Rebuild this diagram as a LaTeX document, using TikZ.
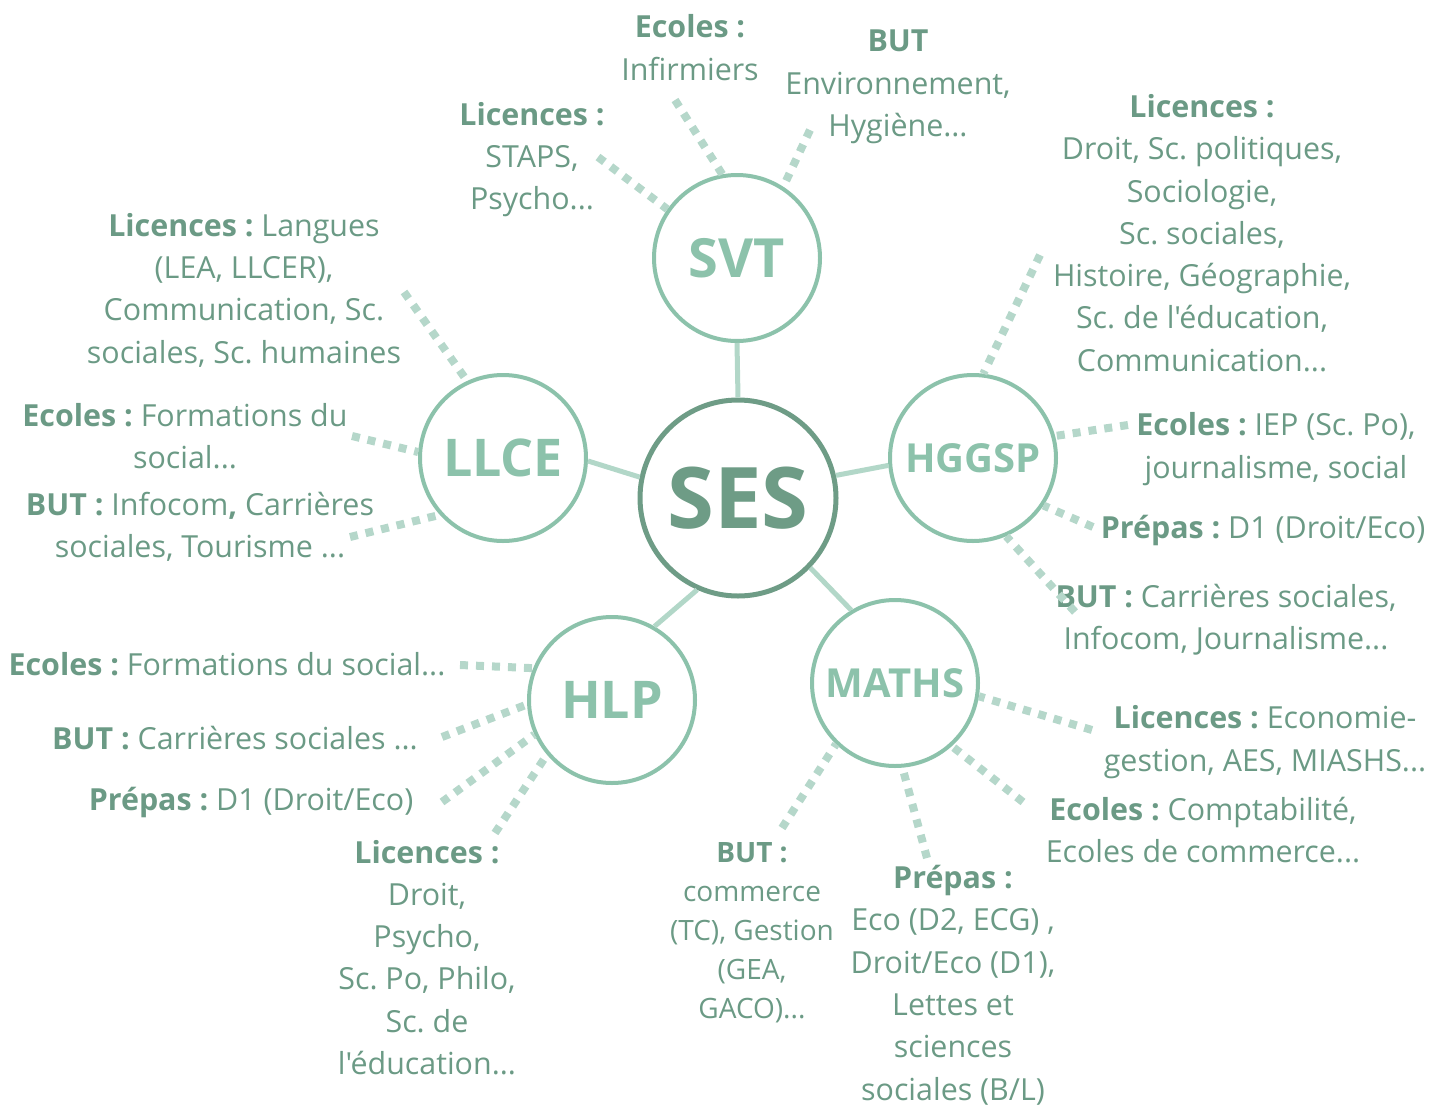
\documentclass[tikz,border=0pt]{standalone}
\usepackage{fontspec}
\setmainfont{Open Sans}[Ligatures=TeXOff]
\frenchspacing
\definecolor{txt}{HTML}{6B9A85}
\definecolor{sesc}{HTML}{6E9C86}
\definecolor{circ}{HTML}{8CC2AB}
\definecolor{linkc}{HTML}{B2D7C8}
\definecolor{dotc}{HTML}{B5D7CA}
\begin{document}
\begin{tikzpicture}[x=1pt,y=-1pt,
 lbl/.style={text=txt,align=center,font=\fontsize{30.4}{42.3}\selectfont,inner sep=0pt},
 lbls/.style={text=txt,align=center,font=\fontsize{28}{39}\selectfont,inner sep=0pt},
 bub/.style={circle,draw=circ,line width=4pt,inner sep=0pt,minimum size=166pt,text=circ},
 linkl/.style={draw=linkc,line width=5pt},
 dotl/.style={draw=dotc,line width=8pt,dash pattern=on 8pt off 8pt}]
\useasboundingbox (0,0) rectangle (1444,1106);
% circles
\node[circle,draw=sesc,line width=5pt,inner sep=0pt,minimum size=196pt,text=sesc,
  font=\fontsize{85}{85}\selectfont\bfseries] (ses) at (738,498) {SES};
\node[bub,font=\fontsize{54}{54}\selectfont\bfseries] (svt) at (737,258) {SVT};
\node[bub,font=\fontsize{52}{52}\selectfont\bfseries] (llce) at (503,458) {LLCE};
\node[bub,font=\fontsize{40}{40}\selectfont\bfseries] (hggsp) at (973,458) {HGGSP};
\node[bub,font=\fontsize{52}{52}\selectfont\bfseries] (hlp) at (612,700) {HLP};
\node[bub,font=\fontsize{40}{40}\selectfont\bfseries] (maths) at (895,683) {MATHS};
% solid links
\draw[linkl] (svt.-90) -- (ses.90);
\draw[linkl] (llce.-2) -- (ses.168);
\draw[linkl] (hggsp.185) -- (ses.13);
\draw[linkl] (hlp.60) -- (ses.246);
\draw[linkl] (maths.121) -- (ses.-44);
% labels
\node[lbl] (t1) at (690,47.5) {\textbf{Ecoles :}\\Infirmiers};
\node[lbl] (t2) at (898,87) {\textbf{BUT}\\Environnement,\\Hygiène...};
\node[lbl] (t3) at (532,159.5) {\textbf{Licences :}\\STAPS,\\Psycho...};
\node[lbl] (t4) at (1202,233) {\textbf{Licences :}\\Droit, Sc. politiques,\\Sociologie,\\Sc. sociales,\\Histoire, Géographie,\\Sc. de l'éducation,\\Communication...};
\node[lbl] (t5) at (244,290) {\textbf{Licences :} Langues\\(LEA, LLCER),\\Communication, Sc.\\sociales, Sc. humaines};
\node[lbl] (t6) at (185,436) {\textbf{Ecoles :} Formations du\\social...};
\node[lbl] (t7) at (200,526.5) {\textbf{BUT :} Infocom\textbf{,} Carrières\\sociales, Tourisme ...};
\node[lbl] (t8) at (1276,449) {\textbf{Ecoles :} IEP (Sc. Po),\\journalisme, social};
\node[lbl] (t9) at (1263,530) {\textbf{Prépas :} D1 (Droit/Eco)};
\node[lbl] (t10) at (1226,620) {\textbf{BUT :} Carrières sociales,\\Infocom, Journalisme...};
\node[lbl] (t11) at (227,664) {\textbf{Ecoles :} Formations du social...};
\node[lbl] (t12) at (235,738) {\textbf{BUT :} Carrières sociales ...};
\node[lbl] (t13) at (251,802) {\textbf{Prépas :} D1 (Droit/Eco)};
\node[lbl] (t14) at (427,957.5) {\textbf{Licences :}\\Droit,\\Psycho,\\Sc. Po, Philo,\\Sc. de\\l'éducation...};
\node[lbls] (t15) at (752,933) {\textbf{BUT :}\\commerce\\(TC), Gestion\\(GEA,\\GACO)...};
\node[lbl] (t16) at (953,985) {\textbf{Prépas :}\\Eco (D2, ECG) ,\\Droit/Eco (D1),\\Lettes et\\sciences\\sociales (B/L)};
\node[lbl] (t17) at (1265,742) {\textbf{Licences :} Economie-\\gestion, AES, MIASHS...};
\node[lbl] (t18) at (1203,830) {\textbf{Ecoles :} Comptabilité,\\Ecoles de commerce...};
% dotted connector ends
\coordinate (e1) at (675,100);
\coordinate (e2) at (810,130);
\coordinate (e3) at (598,157);
\coordinate (e4) at (404,292);
\coordinate (e5) at (352,436);
\coordinate (e6) at (350,537);
\coordinate (e7) at (1040,255);
\coordinate (e8) at (1128,425);
\coordinate (e9) at (1093,527);
\coordinate (e10) at (1075,612);
\coordinate (e11) at (460,665);
\coordinate (e12) at (442,737);
\coordinate (e13) at (442,802);
\coordinate (e14) at (495,833);
\coordinate (e15) at (782,828);
\coordinate (e16) at (927,858);
\coordinate (e17) at (1092,730);
\coordinate (e18) at (1023,802);
\draw[dotl] (e1) -- (svt.100);
\draw[dotl] (e2) -- (svt.57);
\draw[dotl] (e3) -- (svt.145);
\draw[dotl] (e4) -- (llce.115);
\draw[dotl] (e5) -- (llce.176);
\draw[dotl] (e6) -- (llce.222);
\draw[dotl] (e7) -- (hggsp.83);
\draw[dotl] (e8) -- (hggsp.15);
\draw[dotl] (e9) -- (hggsp.-34);
\draw[dotl] (e10) -- (hggsp.-67);
\draw[dotl] (e11) -- (hlp.158);
\draw[dotl] (e12) -- (hlp.183);
\draw[dotl] (e13) -- (hlp.204);
\draw[dotl] (e14) -- (hlp.220);
\draw[dotl] (e15) -- (maths.226);
\draw[dotl] (e16) -- (maths.-85);
\draw[dotl] (e17) -- (maths.-9);
\draw[dotl] (e18) -- (maths.-48);
\end{tikzpicture}
\end{document}
